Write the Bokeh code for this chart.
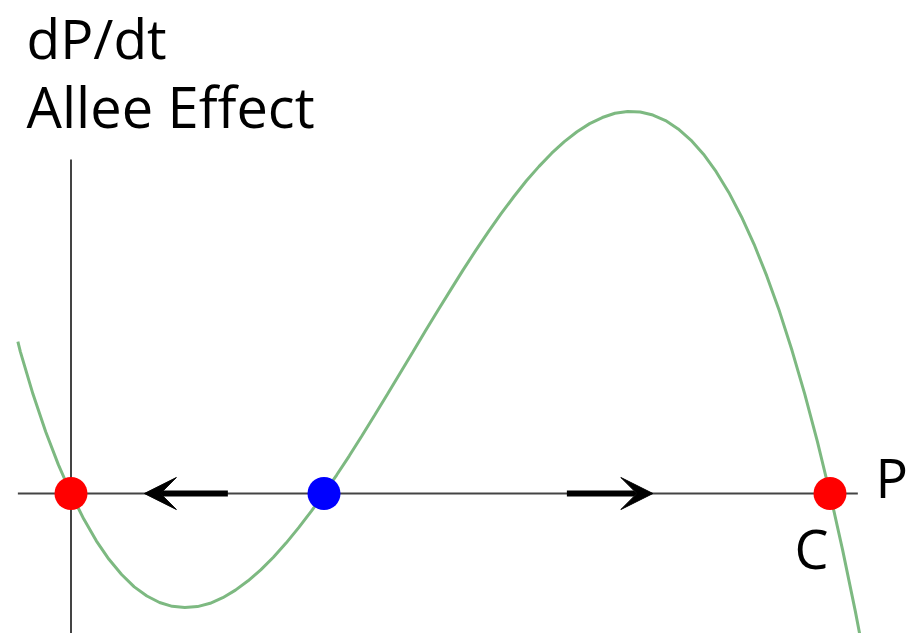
from bokeh.plotting import figure
from bokeh.models import Range1d, ColumnDataSource, Arrow, VeeHead, Label
from bokeh.embed import file_html
from bokeh.resources import INLINE

# Curve dP/dt versus P (P in units of the Allee threshold A)
curve_p = [-0.21, -0.2, -0.15, -0.1, -0.05, 0.0, 0.05, 0.1, 0.15, 0.2, 0.25, 0.3,
           0.35, 0.4, 0.45, 0.5, 0.55, 0.6, 0.65, 0.7, 0.75, 0.8, 0.85, 0.9,
           0.95, 1.0, 1.05, 1.1, 1.15, 1.2, 1.25, 1.3, 1.35, 1.4, 1.45, 1.5,
           1.55, 1.6, 1.65, 1.7, 1.75, 1.8, 1.85, 1.9, 1.95, 2.0, 2.05, 2.1,
           2.15, 2.2, 2.25, 2.3, 2.35, 2.4, 2.45, 2.5, 2.55, 2.6, 2.65, 2.7,
           2.75, 2.8, 2.85, 2.9, 2.95, 3.0, 3.05, 3.1, 3.14]
curve_v = [0.60, 0.56, 0.392, 0.244, 0.114, 0.0, -0.100, -0.187, -0.260, -0.320,
           -0.369, -0.405, -0.431, -0.446, -0.451, -0.447, -0.434, -0.412, -0.382,
           -0.345, -0.302, -0.252, -0.196, -0.135, -0.070, 0.0, 0.073, 0.149,
           0.228, 0.309, 0.391, 0.474, 0.557, 0.641, 0.723, 0.804, 0.884, 0.961,
           1.035, 1.106, 1.173, 1.236, 1.293, 1.345, 1.391, 1.430, 1.462, 1.486,
           1.503, 1.510, 1.508, 1.496, 1.474, 1.441, 1.397, 1.341, 1.272, 1.190,
           1.094, 0.985, 0.860, 0.721, 0.565, 0.394, 0.206, 0.0, -0.224, -0.465,
           -0.673]

# Equilibria
stable_p = [0.0, 3.0]
stable_v = [0.0, 0.0]
unstable_p = [1.0]
unstable_v = [0.0]

# Direction-of-flow arrows on the P axis
arrow_from = [0.62, 1.96]
arrow_to = [0.29, 2.30]

# Axis line extents
haxis_p = [-0.21, 3.11]
vaxis_v = [1.32, -0.6]

title_lines = ["dP/dt", "Allee Effect"]
axis_label = "P"
carrying_label = "C"

W, H = 910, 633
PX = 253.0
x0 = -70.5 / PX
y1 = 493 / PX

p = figure(width=W, height=H,
           x_range=Range1d(x0, x0 + W / PX),
           y_range=Range1d(y1 - H / PX, y1),
           output_backend="svg", toolbar_location=None, min_border=0)
p.axis.visible = False
p.grid.visible = False
p.outline_line_color = None
p.background_fill_color = "white"
p.border_fill_color = "white"

axis_col = "#444444"
p.line(haxis_p, [0, 0], line_color=axis_col, line_width=2)
p.line([0, 0], vaxis_v, line_color=axis_col, line_width=2)

p.line(curve_p, curve_v, line_color="#7db981", line_width=3)

asrc = ColumnDataSource(dict(xs=arrow_from, xe=arrow_to, ys=[0, 0], ye=[0, 0]))
p.add_layout(Arrow(end=VeeHead(size=32, fill_color="black", line_color="black", line_width=1),
                   x_start="xs", y_start="ys", x_end="xe", y_end="ye",
                   line_color="black", line_width=6, source=asrc))

p.scatter(stable_p, stable_v, size=33, fill_color="#ff0000", line_color=None)
p.scatter(unstable_p, unstable_v, size=33, fill_color="#0000ff", line_color=None)

font = "Open Sans"
p.add_layout(Label(x=26, y=H - 37, x_units="screen", y_units="screen", text=title_lines[0],
                   text_font=font, text_font_size="55px", text_color="black",
                   text_baseline="alphabetic"))
p.add_layout(Label(x=26, y=H - 105, x_units="screen", y_units="screen", text=title_lines[1],
                   text_font=font, text_font_size="56px", text_color="black",
                   text_baseline="alphabetic"))
p.add_layout(Label(x=3.18, y=0.066, text=axis_label,
                   text_font=font, text_font_size="54px", text_color="black",
                   text_baseline="alphabetic"))
p.add_layout(Label(x=2.86, y=-0.215, text=carrying_label,
                   text_font=font, text_font_size="54px", text_color="black",
                   text_baseline="alphabetic"))

open("out.html", "w").write(file_html(p, INLINE))
